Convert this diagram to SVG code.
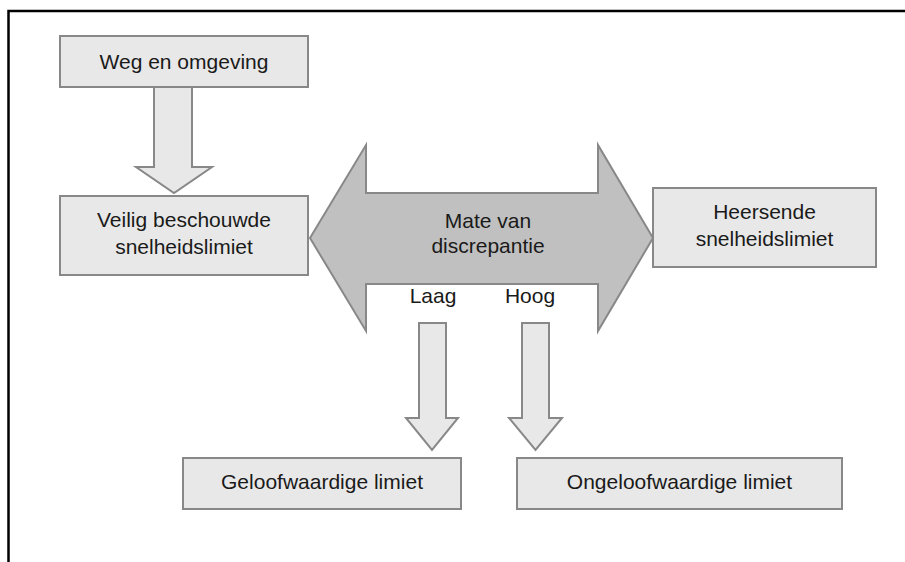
<svg xmlns="http://www.w3.org/2000/svg" width="905" height="562" viewBox="0 0 905 562">
<style>
.box{fill:#e8e8e8;stroke:#888888;stroke-width:2}
.arr{fill:#e8e8e8;stroke:#888888;stroke-width:2;stroke-linejoin:miter}
.big{fill:#c0c0c0;stroke:#888888;stroke-width:2}
text{font-family:"Liberation Sans",Arial,sans-serif;font-size:21px;fill:#1a1a1a;text-anchor:middle}
</style>
<rect width="905" height="562" fill="#ffffff"/>
<path d="M8.5,562 V11 H905" fill="none" stroke="#000000" stroke-width="2.5"/>
<g id="connectors">
<polygon class="arr" points="154,87 192,87 192,167 212,167 174,193 136,167 154,167"/>
<polygon class="arr" points="419,323 446,323 446,418 458,418 432,450 406,418 419,418"/>
<polygon class="arr" points="522,323 549,323 549,418 562,418 535.5,450 509,418 522,418"/>
</g>
<g id="weg">
<rect class="box" x="60" y="36" width="248" height="51"/>
<text x="184" y="69">Weg en omgeving</text>
</g>
<g id="veilig">
<rect class="box" x="60" y="196" width="248" height="79"/>
<text x="184" y="227">Veilig beschouwde</text>
<text x="184" y="254">snelheidslimiet</text>
</g>
<g id="discrepantie">
<polygon class="big" points="310,238 366,145 366,193 598,193 598,145 653,238 598,331 598,284 366,284 366,331"/>
<text x="488" y="228">Mate van</text>
<text x="488" y="253">discrepantie</text>
<text x="433" y="303">Laag</text>
<text x="530" y="303">Hoog</text>
</g>
<g id="heersende">
<rect class="box" x="653" y="188" width="223" height="79"/>
<text x="764.5" y="219">Heersende</text>
<text x="764.5" y="246">snelheidslimiet</text>
</g>
<g id="geloofwaardig">
<rect class="box" x="183" y="458" width="278" height="51"/>
<text x="322" y="489">Geloofwaardige limiet</text>
</g>
<g id="ongeloofwaardig">
<rect class="box" x="517" y="458" width="325" height="51"/>
<text x="679.5" y="489">Ongeloofwaardige limiet</text>
</g>
</svg>
